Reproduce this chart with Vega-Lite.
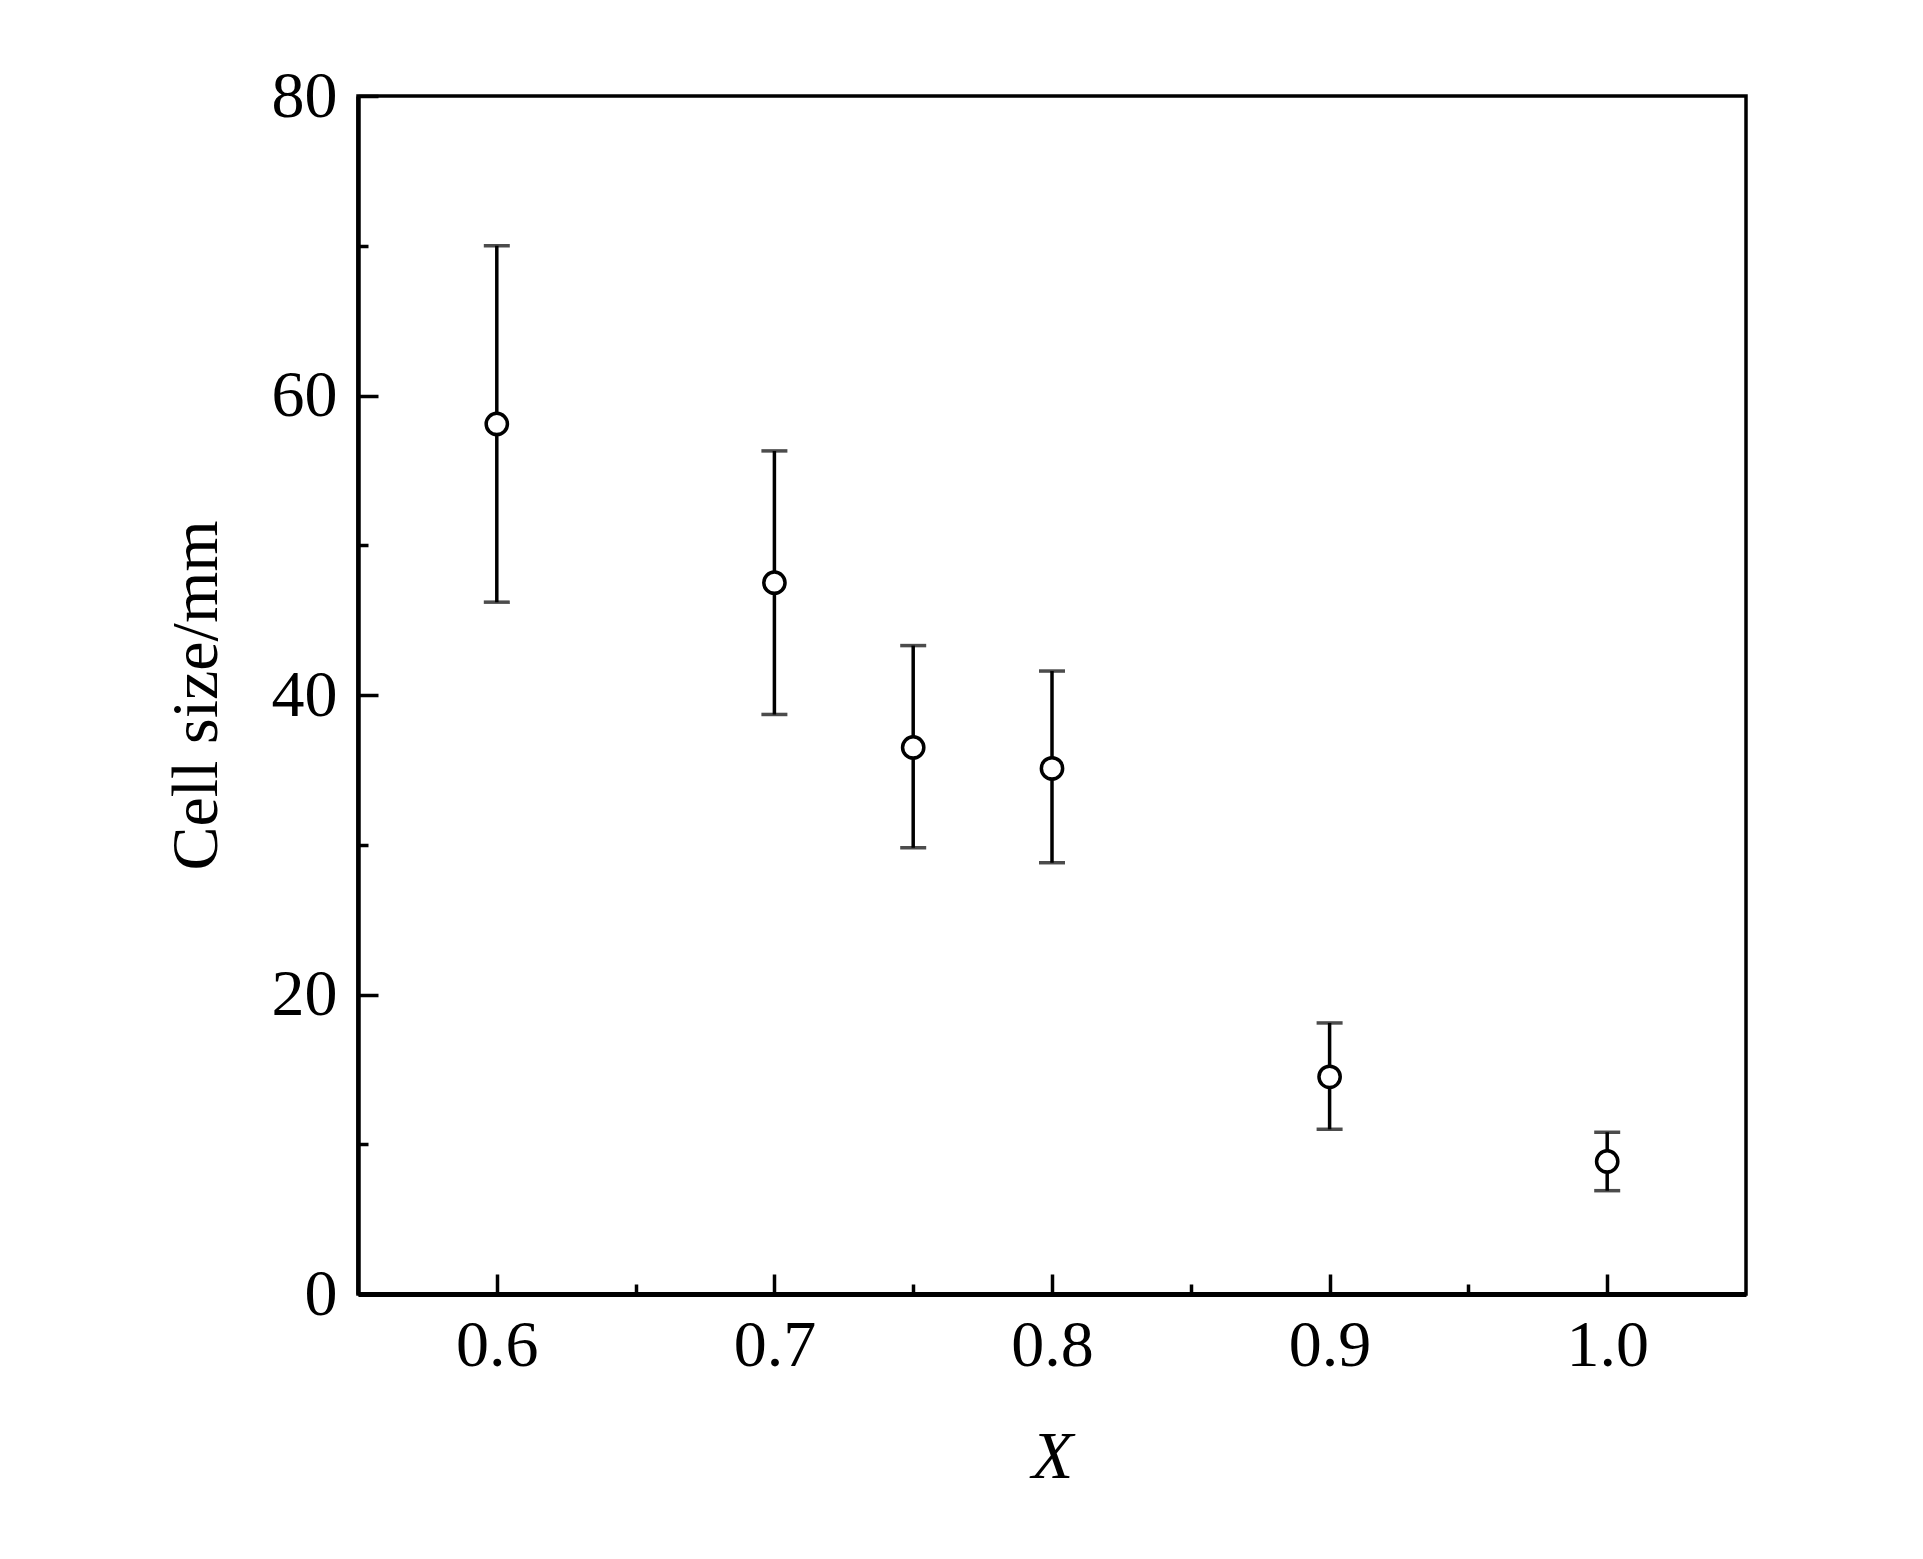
{
  "$schema": "https://vega.github.io/schema/vega-lite/v6.json",
  "autosize": {"type": "none"},
  "padding": {"left": 358, "top": 96, "right": 177, "bottom": 265},
  "width": 1388,
  "height": 1198,
  "background": "white",
  "config": {
    "view": {"stroke": "black", "strokeWidth": 3.5},
    "font": "Liberation Serif"
  },
  "data": {
    "values": [
      {"X": 0.6, "size": 58.1, "lo": 46.2, "hi": 70.0},
      {"X": 0.7, "size": 47.5, "lo": 38.7, "hi": 56.3},
      {"X": 0.75, "size": 36.5, "lo": 29.8, "hi": 43.3},
      {"X": 0.8, "size": 35.1, "lo": 28.8, "hi": 41.6},
      {"X": 0.9, "size": 14.5, "lo": 11.0, "hi": 18.1},
      {"X": 1.0, "size": 8.85, "lo": 6.9, "hi": 10.8}
    ]
  },
  "encoding": {
    "x": {
      "field": "X", "type": "quantitative",
      "scale": {"domain": [0.55, 1.05], "nice": false, "zero": false},
      "axis": {
        "title": "X",
        "titleFont": "Liberation Serif", "titleFontStyle": "italic", "titleFontWeight": "normal",
        "titleFontSize": 68, "titleColor": "black", "titlePadding": 35,
        "values": [0.6, 0.65, 0.7, 0.75, 0.8, 0.85, 0.9, 0.95, 1.0],
        "labelExpr": "abs(datum.value*10 - round(datum.value*10)) < 0.001 ? format(datum.value, '.1f') : ''",
        "labelFont": "Liberation Serif", "labelFontSize": 66, "labelColor": "black",
        "labelPadding": 39, "labelFlush": false, "labelOverlap": false,
        "grid": false,
        "domainColor": "black", "domainWidth": 5,
        "tickColor": "black", "tickWidth": 3.5,
        "tickSize": {"condition": {"test": "abs(datum.value*10 - round(datum.value*10)) < 0.001", "value": -20}, "value": -10}
      }
    },
    "y": {
      "field": "size", "type": "quantitative",
      "scale": {"domain": [0, 80], "nice": false},
      "axis": {
        "title": "Cell size/mm",
        "titleFont": "Liberation Serif", "titleFontWeight": "normal",
        "titleFontSize": 66, "titleColor": "black", "titlePadding": 41,
        "values": [0, 10, 20, 30, 40, 50, 60, 70, 80],
        "labelExpr": "datum.value % 20 === 0 ? datum.label : ''",
        "labelFont": "Liberation Serif", "labelFontSize": 66, "labelColor": "black",
        "labelPadding": 41, "labelFlush": false, "labelOverlap": false,
        "grid": false,
        "domainColor": "black", "domainWidth": 4.5,
        "tickColor": "black", "tickWidth": 3.5,
        "tickSize": {"condition": {"test": "datum.value % 20 === 0", "value": -20}, "value": -10}
      }
    }
  },
  "layer": [
    {
      "mark": {"type": "rule", "color": "black", "strokeWidth": 3.5},
      "encoding": {
        "y": {"field": "lo", "type": "quantitative"},
        "y2": {"field": "hi"}
      }
    },
    {
      "mark": {"type": "tick", "orient": "horizontal", "color": "black", "size": 26, "thickness": 3.5},
      "encoding": {"y": {"field": "lo", "type": "quantitative"}}
    },
    {
      "mark": {"type": "tick", "orient": "horizontal", "color": "black", "size": 26, "thickness": 3.5},
      "encoding": {"y": {"field": "hi", "type": "quantitative"}}
    },
    {
      "mark": {"type": "point", "shape": "circle", "filled": true, "fill": "white", "stroke": "black", "strokeWidth": 3.5, "size": 452, "opacity": 1}
    }
  ]
}
